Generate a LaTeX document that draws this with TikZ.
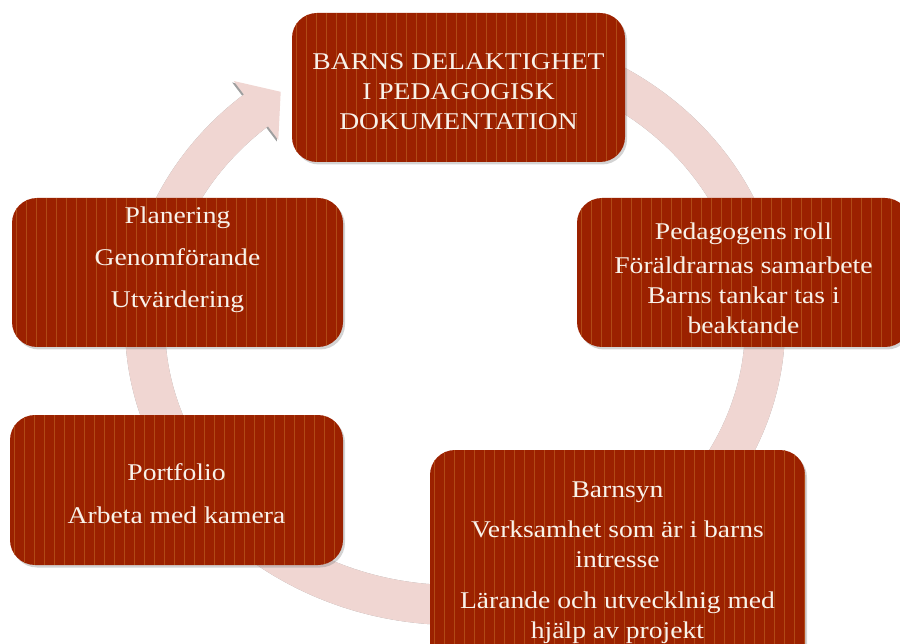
\documentclass[tikz,border=0pt]{standalone}
\usepackage{fontspec}
\setmainfont{Liberation Serif}[FakeStretch=1.15]
\usetikzlibrary{shadows}
\definecolor{boxred}{HTML}{9B2100}
\definecolor{stripe}{HTML}{B04A16}
\definecolor{ringpink}{HTML}{F0D6D2}
\definecolor{txtwhite}{HTML}{F8F2EA}
\tikzset{
	redbox/.style={rounded corners=25pt, fill=boxred, inner sep=0pt,
		drop shadow={shadow xshift=2pt, shadow yshift=-2.5pt, opacity=0.35},
		path picture={\foreach \s in {4,14,...,384} \draw[stripe, line width=0.5pt] ([xshift=\s pt]path picture bounding box.north west) -- ([xshift=\s pt]path picture bounding box.south west);}},
	boxtext/.style={text=txtwhite, align=center, font=\fontsize{24}{30}\selectfont, inner sep=0pt},
	ringband/.style={draw=ringpink, line width=40pt},
	ringshade/.style={draw=gray!75, line width=40pt}
}
\begin{document}
\begin{tikzpicture}[x=1pt, y=-1pt]
		\useasboundingbox (0,0) rectangle (900,644);
		\coordinate (ringc) at (455,325);
		\begin{scope}[xshift=-1.5pt, yshift=-1.5pt]
		\draw[ringshade] (ringc) ++(-60:310 and 280) arc[start angle=-60, end angle=231, x radius=310, y radius=280];
		\fill[gray!75] (233.7,81) -- (280.7,91.8) -- (278.3,140) -- cycle;
		\end{scope}
		\draw[ringband] (ringc) ++(-60:310 and 280) arc[start angle=-60, end angle=231, x radius=310, y radius=280];
		\fill[ringpink] (233.7,81) -- (280.7,91.8) -- (278.3,140) -- cycle;
		\node[redbox, minimum width=333pt, minimum height=149pt] (topbox) at (458.5,87.5) {};
		\node[redbox, minimum width=333pt, minimum height=149pt] (rolebox) at (743.5,272.5) {};
		\node[redbox, minimum width=331pt, minimum height=149pt] (planbox) at (177.5,272.5) {};
		\node[redbox, minimum width=333pt, minimum height=150pt] (portbox) at (176.5,490) {};
		\node[redbox, minimum width=375pt, minimum height=230pt] (synbox) at (617.5,565) {};
		\node[boxtext] (toptext) at (458.5,92) {BARNS DELAKTIGHET\\I PEDAGOGISK\\DOKUMENTATION};
		\node[boxtext] (roletext) at (743.5,278) {Pedagogens roll\\[4pt]Föräldrarnas samarbete\\Barns tankar tas i\\beaktande};
		\node[boxtext] (plantext) at (177.5,259.5) {Planering\\[12pt]Genomförande\\[12pt]Utvärdering};
		\node[boxtext] (porttext) at (176.5,493.5) {Portfolio\\[13pt]Arbeta med kamera};
		\node[boxtext] (syntext) at (617.5,563) {Barnsyn\\[10pt]Verksamhet som är i barns\\intresse\\[11pt]Lärande och utvecklnig med\\hjälp av projekt};
\end{tikzpicture}
\end{document}
